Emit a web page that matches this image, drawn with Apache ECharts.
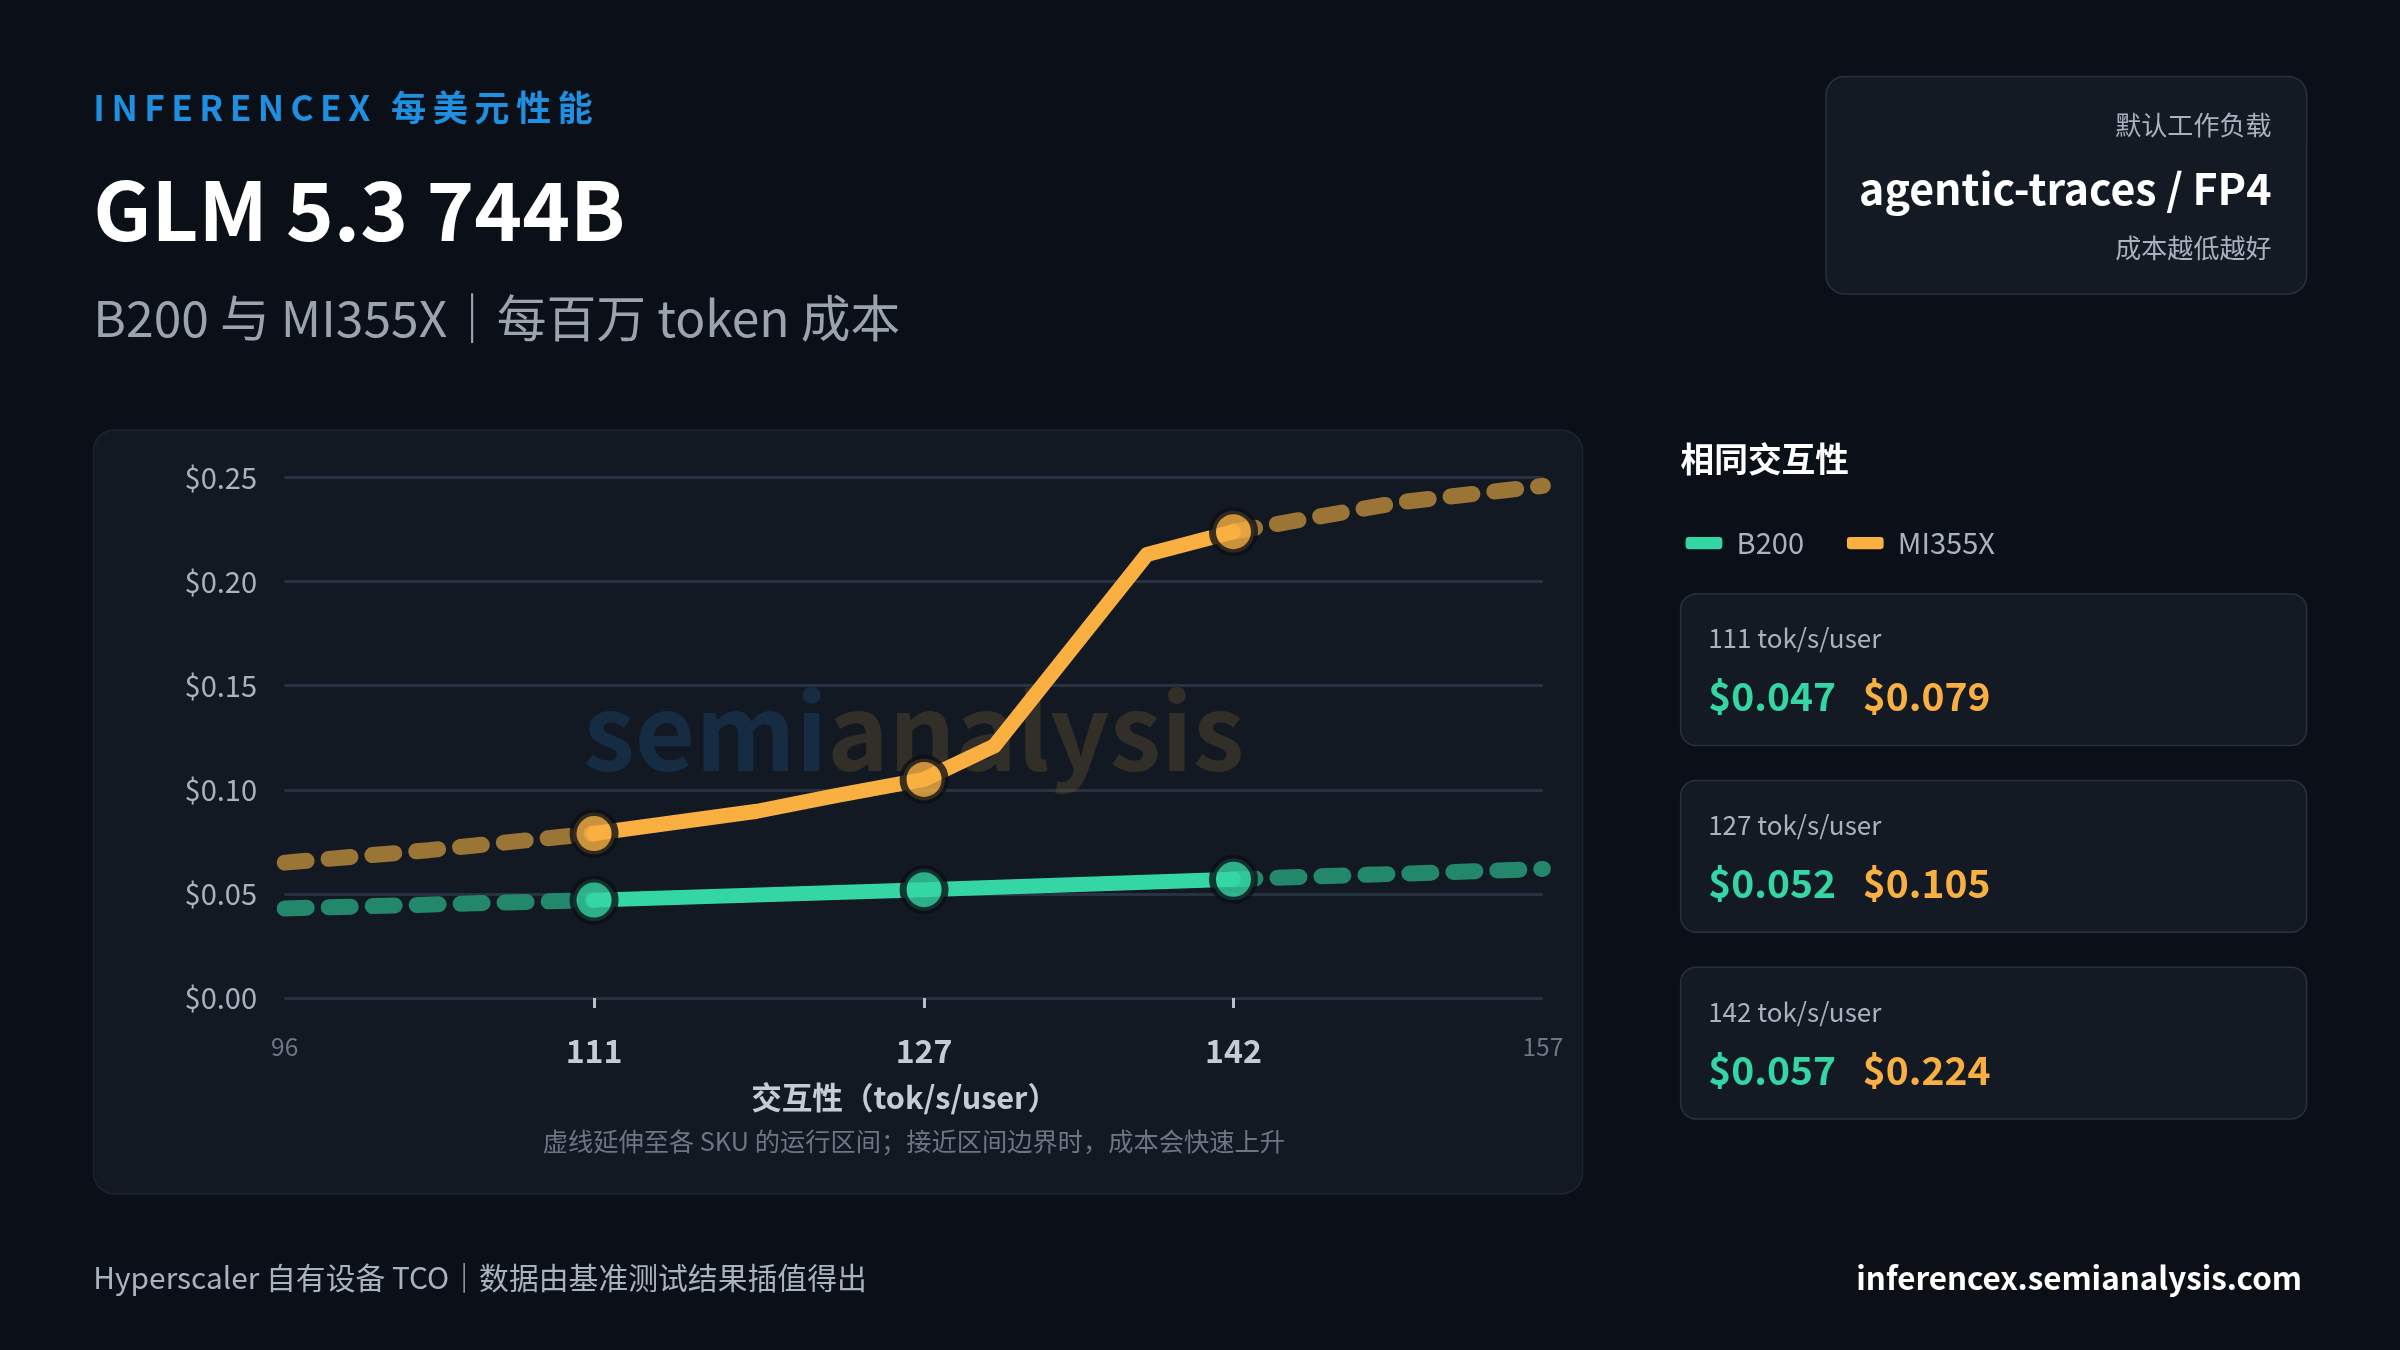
<!DOCTYPE html>
<html><head><meta charset="utf-8">
<script src="https://cdn.jsdelivr.net/npm/echarts@6/dist/echarts.min.js"></script>
<style>html,body{margin:0;padding:0;background:#0b0f17}#c{width:2400px;height:1350px}</style>
</head><body><div id="c"></div>
<script>
const S = 2400/1568;
const FONT = '"Noto Sans CJK SC","Noto Sans",sans-serif';
const yTicks = [0, 0.05, 0.10, 0.15, 0.20, 0.25];
const xLabels = [96, 111, 127, 142, 157];
const keyX = [111, 127, 142];
const b200Left = [[96,0.043],[111,0.047]];
const b200Solid = [[111,0.047],[127,0.052],[142,0.057]];
const b200Right = [[142,0.057],[157,0.062]];
const miLeft = [[96,0.065],[103,0.071],[111,0.079]];
const miSolid = [[111,0.079],[118.9,0.0897],[122.6,0.097],[127,0.105],[130.4,0.121],[134.1,0.167],[137.8,0.213],[142,0.224]];
const miRight = [[142,0.224],[150,0.238],[157,0.246]];
const b200Pts = [[111,0.047],[127,0.052],[142,0.057]];
const miPts = [[111,0.079],[127,0.105],[142,0.224]];
const cards = [
  {label:'111 tok/s/user', b:'$0.047', m:'$0.079'},
  {label:'127 tok/s/user', b:'$0.052', m:'$0.105'},
  {label:'142 tok/s/user', b:'$0.057', m:'$0.224'}
];
const GREEN='#34d6a4', ORANGE='#f9b041', GREEN_D='#23876b', ORANGE_D='#9a7535';
const chart = echarts.init(document.getElementById('c'));
const g = [];
function t(x,y,text,size,color,weight,align,extra){
  g.push({type:'text',x:x*S,y:y*S,style:Object.assign({text:text,fontSize:size*S,fill:color,fontWeight:weight||'normal',fontFamily:FONT,align:align||'left',verticalAlign:'middle'},extra||{}),z:10});
}
(function(){
  const cv=document.createElement('canvas').getContext('2d');
  const fs=23*S; cv.font='bold '+fs+'px '+FONT;
  let x=61*S; const str='INFERENCEX 每美元性能';
  for(const ch of str){
    g.push({type:'text',x:x,y:70*S,style:{text:ch,fontSize:fs,fill:'#1f8fe0',fontWeight:'bold',fontFamily:FONT,verticalAlign:'middle'},z:10});
    x+=cv.measureText(ch).width+4.2*S;
  }
})();
g.push({type:'rect',shape:{x:61*S,y:281*S,width:973*S,height:499*S,r:14*S},style:{fill:'#121923',stroke:'#1c2430',lineWidth:1.5},z:0});
g.push({type:'rect',shape:{x:1193*S,y:50*S,width:314*S,height:142*S,r:12*S},style:{fill:'#131a24',stroke:'#283140',lineWidth:1.5},z:0});
t(1484,82,'默认工作负载',17,'#a9b2bf','normal','right');
t(1484,123,'agentic-traces / FP4',28,'#ffffff','bold','right');
t(1484,162,'成本越低越好',17,'#a9b2bf','normal','right');
t(61,137,'GLM 5.3 744B',53,'#ffffff','bold');
t(61,208,'B200 与 MI355X｜每百万 token 成本',32.5,'#9aa3ae','normal');
g.push({type:'text',x:597*S,y:478*S,style:{text:'{a|semi}{b|analysis}',rich:{a:{fill:'rgba(30,80,130,0.35)',fontSize:68*S,fontWeight:'bold',fontFamily:FONT},b:{fill:'rgba(110,90,50,0.35)',fontSize:68*S,fontWeight:'bold',fontFamily:FONT}},align:'center',verticalAlign:'middle'},z:1});
t(591,717,'交互性（tok/s/user）',20,'#c5ccd6','bold','center');
t(597,746,'虚线延伸至各 SKU 的运行区间；接近区间边界时，成本会快速上升',16.5,'#6c7684','normal','center');
t(1098,300,'相同交互性',22,'#ffffff','bold');
cards.forEach((c,i)=>{
  const y0 = 388 + i*122;
  g.push({type:'rect',shape:{x:1098*S,y:y0*S,width:409*S,height:99*S,r:10*S},style:{fill:'#131a24',stroke:'#283140',lineWidth:1.5},z:0});
  t(1116,y0+29,c.label,17,'#a9b2bf');
  t(1116,y0+67,c.b,25.5,GREEN,'bold');
  t(1217,y0+67,c.m,25.5,ORANGE,'bold');
});
t(61,835,'Hyperscaler 自有设备 TCO｜数据由基准测试结果插值得出',19.5,'#a9b2bf');
t(1504,835,'inferencex.semianalysis.com',20.5,'#ffffff','bold','right');

const dashStyle = (c)=>({color:c,width:16,type:[22,22],cap:'round'});
const solidStyle = (c)=>({color:c,width:15,cap:'round',join:'round'});
function line(name,data,ls,z){return {type:'line',name:name,data:data,showSymbol:false,symbol:'none',lineStyle:ls,z:z,silent:true};}
chart.setOption({
  backgroundColor:'#0b0f17',
  animation:false,
  textStyle:{fontFamily:FONT},
  legend:{left:1098*S,top:342*S,itemWidth:24*S,itemHeight:8*S,itemGap:28*S,icon:'roundRect',
    textStyle:{color:'#a9b2bf',fontSize:19*S,fontFamily:FONT,padding:[0,0,0,6*S]},
    data:[{name:'B200',itemStyle:{color:GREEN}},{name:'MI355X',itemStyle:{color:ORANGE}}]},
  grid:{left:186*S,right:2400-1008*S,top:312*S,bottom:1350-652*S,containLabel:false},
  xAxis:{type:'value',min:96,max:157,
    axisLine:{show:false},splitLine:{show:false},
    axisTick:{show:true,customValues:keyX,length:10,lineStyle:{color:'#b8c0cc',width:3}},
    axisLabel:{customValues:xLabels,margin:24*S,formatter:v=>keyX.includes(v)?'{k|'+v+'}':'{s|'+v+'}',
      rich:{k:{fontSize:21*S,fontWeight:'bold',color:'#c5ccd6',fontFamily:FONT},s:{fontSize:16*S,color:'#6c7684',fontFamily:FONT,padding:[0,6*S,0,6*S]}}}},
  yAxis:{type:'value',min:0,max:0.25,interval:0.05,
    axisLine:{show:false},axisTick:{show:false},
    splitLine:{lineStyle:{color:'#273242',width:3}},
    axisLabel:{margin:18*S,color:'#a9b2bf',fontSize:19*S,padding:[10*S,0,0,0],formatter:v=>'$'+v.toFixed(2)}},
  series:[
    line('B200',b200Left,dashStyle(GREEN_D),2),
    line('B200',b200Right,dashStyle(GREEN_D),2),
    line('MI355X',miLeft,dashStyle(ORANGE_D),2),
    line('MI355X',miRight,dashStyle(ORANGE_D),2),
    line('B200',b200Solid,solidStyle(GREEN),3),
    line('MI355X',miSolid,solidStyle(ORANGE),3),
    {type:'scatter',name:'B200',data:b200Pts,symbolSize:42,itemStyle:{color:GREEN,borderColor:'#0b0f17',borderWidth:7},z:5},
    {type:'scatter',name:'MI355X',data:miPts,symbolSize:42,itemStyle:{color:ORANGE,borderColor:'#0b0f17',borderWidth:7},z:5}
  ],
  graphic:g
});
</script></body></html>
